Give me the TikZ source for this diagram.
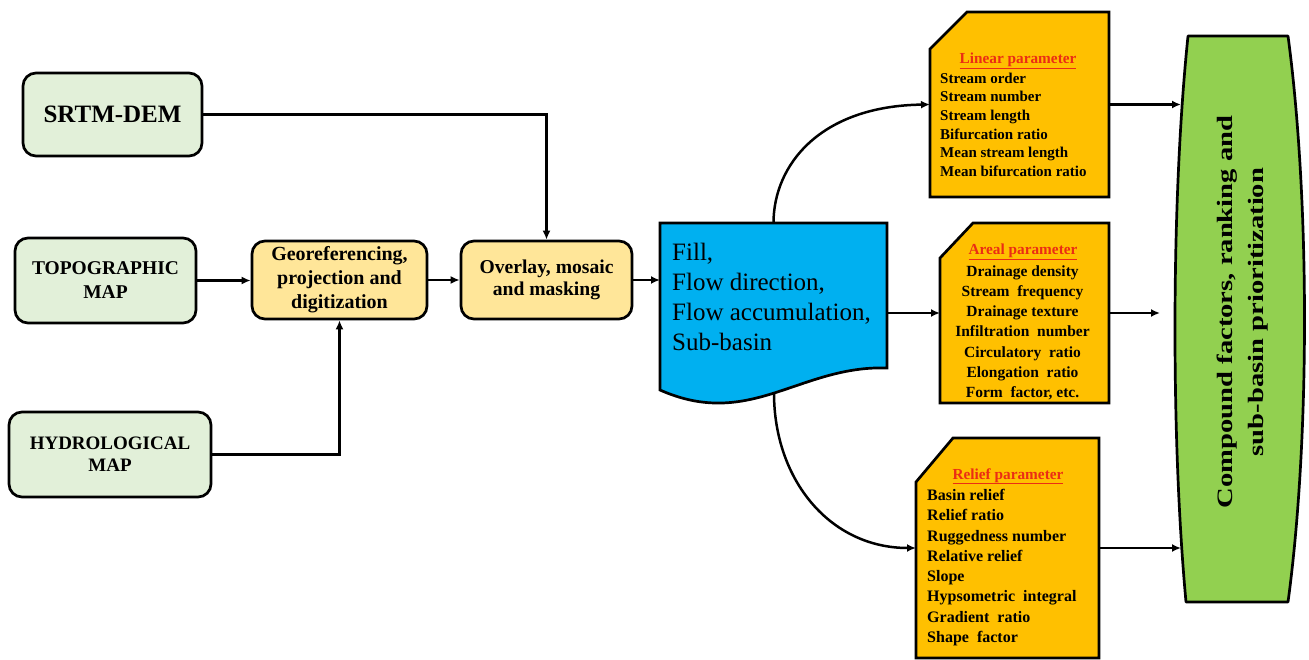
\documentclass[tikz,border=0pt]{standalone}
\usepackage{fontspec}
\setmainfont{Liberation Serif}
\usetikzlibrary{arrows.meta,calc}
\definecolor{inbox}{RGB}{226,240,217}
\definecolor{procfill}{RGB}{255,230,153}
\definecolor{docblue}{RGB}{0,176,240}
\definecolor{paramorange}{RGB}{255,192,0}
\definecolor{finalgreen}{RGB}{146,208,80}
\definecolor{titlered}{RGB}{235,45,20}
\newcommand{\fs}[2]{\fontsize{#1}{#2}\selectfont}
\begin{document}
\begin{tikzpicture}[x=1pt,y=-1pt,
  inputbox/.style={draw=black, line width=2.7pt, rounded corners=13pt, fill=inbox, align=center, inner sep=0pt},
  procbox/.style={draw=black, line width=2.7pt, rounded corners=13pt, fill=procfill, align=center, inner sep=0pt},
  anchorbox/.style={inner sep=0pt, outer sep=0pt, draw=none},
  paramshape/.style={draw=black, line width=2.7pt, fill=paramorange},
  paramtitle/.style={anchor=base, inner sep=0pt, text=titlered, font=\bfseries\fs{15.3}{18}},
  conn/.style={line width=2.5pt, -{Latex[length=9pt,width=8pt]}}
]
\useasboundingbox (0,0) rectangle (1309,660);

% input boxes
\node[inputbox, minimum width=179pt, minimum height=83pt, font=\bfseries\fs{25}{28}] (srtm) at (112.5,114.5) {SRTM-DEM};
\node[inputbox, minimum width=181pt, minimum height=85pt, font=\bfseries\fs{19.5}{24}] (topo) at (105.5,280.5) {TOPOGRAPHIC\\MAP};
\node[inputbox, minimum width=202pt, minimum height=85pt, font=\bfseries\fs{19}{22}] (hydro) at (110,454.5) {HYDROLOGICAL\\MAP};

% process boxes
\node[procbox, minimum width=175pt, minimum height=78pt, font=\bfseries\fs{20}{24}] (geo) at (339.5,280) {Georeferencing,\\projection and\\digitization};
\node[procbox, minimum width=171pt, minimum height=78pt, font=\bfseries\fs{19.6}{22}] (overlay) at (546.5,280) {Overlay, mosaic\\and masking};

% document shape
\node[anchorbox, minimum width=227pt, minimum height=177pt] (doc) at (773.5,311.5) {};
\draw[line width=2.7pt, fill=docblue] (660,223) -- (887,223) -- (887,368)
  .. controls (800,365) and (750,430) .. (660,390) -- cycle;
\coordinate (docbot) at (774,393);
\node[anchor=north west, align=left, inner sep=0pt, font=\fs{25}{30}] (doctext) at (672,243) {Fill,\\Flow direction,\\Flow accumulation,\\Sub-basin};

% parameter boxes
\node[anchorbox, minimum width=179pt, minimum height=185pt] (lin) at (1019.5,104.5) {};
\draw[paramshape] (lin.south west) -- (lin.south east) -- (lin.north east) -- ($(lin.north west)+(37,0)$) -- ($(lin.north west)+(0,37)$) -- cycle;
\node[paramtitle] (lintitle) at (1018,64) {\underline{Linear parameter}};
\node[anchor=north west, align=left, inner sep=0pt, font=\bfseries\fs{15}{18.6}] (linlist) at (940,72.7) {Stream order\\Stream number\\Stream length\\Bifurcation ratio\\Mean stream length\\Mean bifurcation ratio};

\node[anchorbox, minimum width=169pt, minimum height=180pt] (areal) at (1024.5,313) {};
\draw[paramshape] (areal.south west) -- (areal.south east) -- (areal.north east) -- ($(areal.north west)+(33,0)$) -- ($(areal.north west)+(0,35)$) -- cycle;
\node[paramtitle] (areatitle) at (1023,255) {\underline{Areal parameter}};
\node[anchor=north, align=center, inner sep=0pt, font=\bfseries\fs{15.5}{20.2}] (arealist) at (1022.5,265.3) {Drainage density\\Stream\ \ frequency\\Drainage texture\\Infiltration\ \ number\\Circulatory\ \ ratio\\Elongation\ \ ratio\\Form\ \ factor, etc.};

\node[anchorbox, minimum width=183pt, minimum height=220pt] (relief) at (1007.5,548) {};
\draw[paramshape] (relief.south west) -- (relief.south east) -- (relief.north east) -- ($(relief.north west)+(37,0)$) -- ($(relief.north west)+(0,44)$) -- cycle;
\node[paramtitle] (reltitle) at (1008,479) {\underline{Relief parameter}};
\node[anchor=north west, align=left, inner sep=0pt, font=\bfseries\fs{16}{20.3}] (rellist) at (927,489) {Basin relief\\Relief ratio\\Ruggedness number\\Relative relief\\Slope\\Hypsometric\ \ integral\\Gradient\ \ ratio\\Shape\ \ factor};

% final shape
\node[anchorbox, minimum width=122pt, minimum height=566pt] (final) at (1242,319) {};
\draw[line width=2.7pt, fill=finalgreen, line join=round] (1188,36) -- (1288,36)
  .. controls (1310,200) and (1310,440) .. (1288,602) -- (1186,602)
  .. controls (1171,440) and (1171,200) .. (1188,36) -- cycle;
\node[rotate=90, align=center, inner sep=0pt, font=\bfseries\fs{22}{31}] (finaltext) at (1242.5,312)
  {\scalebox{1.3}[1]{Compound factors, ranking and}\\\scalebox{1.3}[1]{sub-basin prioritization}};
\coordinate (finmid) at (1160,313);

% connectors
\draw[conn] (srtm.east) -| (overlay.north);
\draw[conn] (topo.east) -- (topo.east -| geo.west);
\draw[conn] (hydro.east) -| (geo.south);
\draw[conn] (geo.east) -- (overlay.west);
\draw[conn] (overlay.east) -- (overlay.east -| doc.west);
\draw[conn] (doc.north) .. controls (773.5,165) and (820,106) .. (lin.west);
\draw[conn] (doc.east |- areal.west) -- (areal.west);
\draw[conn] (docbot) .. controls (774,480) and (830,548) .. (relief.west);
\draw[conn] (lin.east) -- (lin.east -| final.west);
\draw[conn] (areal.east) -- (finmid);
\draw[conn] (relief.east) -- (relief.east -| final.west);
\end{tikzpicture}
\end{document}
